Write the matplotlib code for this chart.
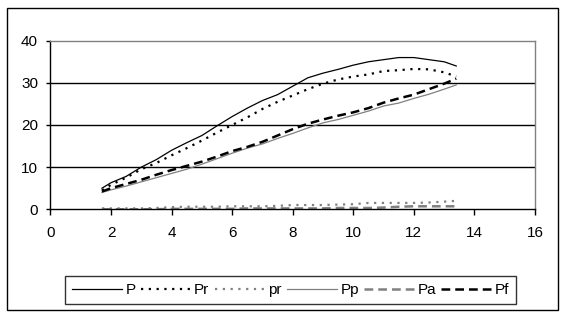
import matplotlib.pyplot as plt
from matplotlib.patches import Rectangle

plt.rcParams['font.family'] = ['Liberation Sans', 'DejaVu Sans']
plt.rcParams['font.size'] = 11

x = [1.7, 2, 2.5, 3, 3.5, 4, 4.5, 5, 5.5, 6, 6.5, 7, 7.5, 8, 8.5, 9, 9.5,
     10, 10.5, 11, 11.5, 12, 12.5, 13, 13.4]

P = [5, 6.3, 7.8, 10, 11.8, 14, 15.8, 17.5, 19.8, 22, 24, 25.8, 27.2, 29.2,
     31.2, 32.3, 33.2, 34.2, 35, 35.5, 36, 36, 35.5, 35, 34]
Pr = [4.5, 5.8, 7.5, 9.5, 11, 12.8, 14.5, 16.3, 18.2, 20, 21.8, 23.8, 25.5,
      27, 28.5, 29.8, 30.8, 31.5, 32, 32.8, 33, 33.3, 33.2, 32.5, 31.5]
pr = [0.2, 0.2, 0.2, 0.2, 0.3, 0.5, 0.6, 0.6, 0.6, 0.7, 0.7, 0.7, 0.8, 1.0,
      1.0, 1.0, 1.1, 1.2, 1.5, 1.5, 1.5, 1.5, 1.6, 1.8, 2.0]
Pp = [4, 4.6, 5.5, 6.5, 7.5, 8.5, 9.5, 10.7, 12, 13.3, 14.5, 15.5, 16.8, 18,
      19.3, 20.5, 21.3, 22.3, 23.3, 24.5, 25.2, 26.3, 27.3, 28.5, 29.5]
Pa = [0, 0, 0, 0, 0, 0.1, 0.1, 0.1, 0.1, 0.1, 0.2, 0.2, 0.2, 0.2, 0.2, 0.2,
      0.3, 0.3, 0.3, 0.4, 0.6, 0.7, 0.7, 0.7, 0.7]
Pf = [4.2, 5, 6, 7, 8.2, 9.3, 10.3, 11.3, 12.5, 13.8, 14.8, 16, 17.5, 19,
      20.3, 21.3, 22.2, 23, 24, 25.3, 26.3, 27.2, 28.5, 29.8, 31]

gray = '#808080'

fig = plt.figure(figsize=(5.66, 3.18), dpi=100)
ax = fig.add_axes([0.0892, 0.342, 0.856, 0.530])

ax.plot(x, P, color='black', lw=0.9, label='P')
ax.plot(x, Pr, color='black', lw=1.6, ls=(0, (1, 2.5)), label='Pr')
ax.plot(x, pr, color=gray, lw=1.6, ls=(0, (1, 2.5)), label='pr')
ax.plot(x, Pp, color=gray, lw=0.9, label='Pp')
ax.plot(x, Pa, color=gray, lw=1.8, ls=(0, (3.5, 2)), label='Pa')
ax.plot(x, Pf, color='black', lw=1.8, ls=(0, (3.5, 2)), label='Pf')

ax.set_xlim(0, 16)
ax.set_ylim(0, 40)
ax.set_xticks(range(0, 17, 2))
ax.set_yticks(range(0, 41, 10))
for yv in [10, 20, 30]:
    ax.axhline(yv, color='black', lw=1, zorder=0)

ax.spines['left'].set_color('black')
ax.spines['bottom'].set_color('black')
ax.spines['top'].set_color(gray)
ax.spines['right'].set_color(gray)
for s in ax.spines.values():
    s.set_linewidth(1)
ax.tick_params(axis='x', length=4, width=1, pad=8, labelsize=11)
ax.tick_params(axis='y', length=3, width=1, pad=6, labelsize=11)

leg = fig.legend(loc='lower left', bbox_to_anchor=(0.115, 0.044, 0.797, 0.105),
                 mode='expand', ncol=6, frameon=True, fancybox=False,
                 handlelength=3.3, handletextpad=0.2, columnspacing=0.2,
                 borderaxespad=0, borderpad=0.45, fontsize=11)
leg.get_frame().set_edgecolor('black')
leg.get_frame().set_linewidth(1)

fig.patches.append(Rectangle((7 / 566, 8 / 318), 551 / 566, 302 / 318,
                             transform=fig.transFigure, fill=False,
                             edgecolor='black', lw=1))

fig.savefig('out.png', dpi=100)
